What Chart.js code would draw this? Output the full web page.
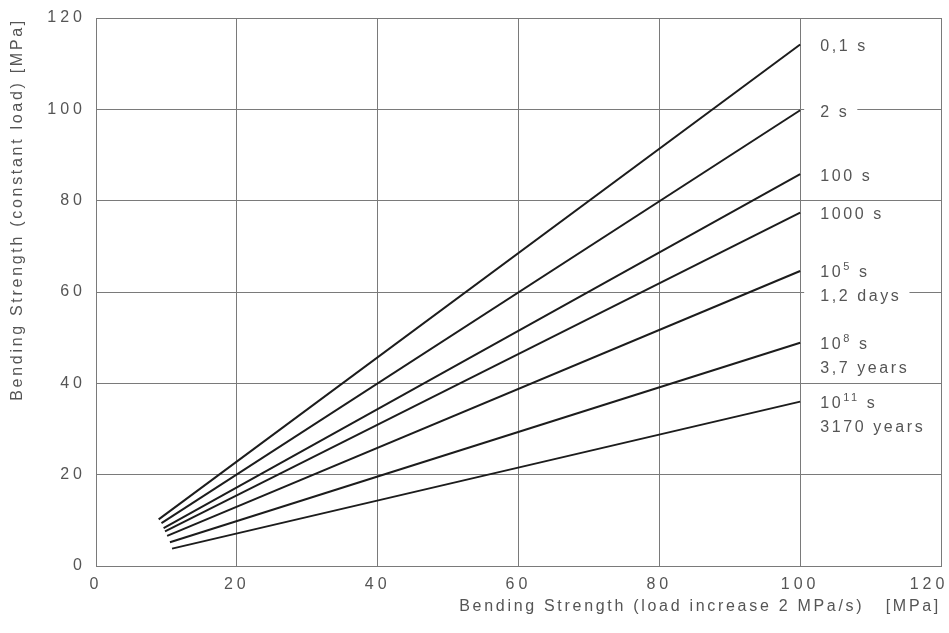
<!DOCTYPE html>
<html>
<head>
<meta charset="utf-8">
<script src="https://cdn.jsdelivr.net/npm/chart.js@4.4.0/dist/chart.umd.min.js"></script>
<style>
  html, body { margin: 0; padding: 0; background: #fff; }
  canvas { display: block; }
</style>
</head>
<body>
<canvas id="strengthChart" width="949" height="633"></canvas>
<script>
// load duration of each curve, second label line where there is one
const durations = ['0,1 s', '2 s', '100 s', '1000 s', '10^5 s', '10^8 s', '10^11 s'];
const durationNotes = ['', '', '', '', '1,2 days', '3,7 years', '3170 years'];

// curve end points: x = strength at load increase 2 MPa/s, y = strength at constant load
const startX = [8.9, 9.3, 9.6, 9.8, 10.1, 10.5, 10.8];
const startY = [10.2, 9.4, 8.3, 7.6, 6.6, 5.2, 3.8];
const endX = [100, 100, 100, 100, 100, 100, 100];
const endY = [114.2, 99.8, 85.8, 77.4, 64.6, 48.9, 36.0];

const xTicks = [0, 20, 40, 60, 80, 100, 120];
const yTicks = [0, 20, 40, 60, 80, 100, 120];

const family = '"Liberation Sans", Arial, Helvetica, sans-serif';
const textColor = '#555';
const gridColor = '#7a7a7a';

// wrap a scale draw method so it uses its own letter spacing
function withSpacing(scale, method, spacing) {
    const orig = scale[method];
    scale[method] = function () {
        const ctx = this.ctx;
        const prev = ctx.letterSpacing;
        ctx.letterSpacing = spacing;
        const res = orig.apply(this, arguments);
        ctx.letterSpacing = prev;
        return res;
    };
}

// one text line of a curve label, "10^5 s" gets a raised exponent
function drawLabel(ctx, text, px, py) {
    const m = text.match(/^(\d+)\^(\d+)(.*)$/);
    const parts = m ? [[m[1], 16, 0], [m[2], 11, -6], [m[3], 16, 0]] : [[text, 16, 0]];
    let w = 0;
    parts.forEach(p => {
        ctx.font = p[1] + 'px ' + family;
        w += ctx.measureText(p[0]).width;
    });
    ctx.fillStyle = '#fff';
    ctx.fillRect(px - 16, py - 8, w + 24, 16);
    ctx.fillStyle = textColor;
    let cx = px;
    parts.forEach(p => {
        ctx.font = p[1] + 'px ' + family;
        ctx.fillText(p[0], cx, py + p[2]);
        cx += ctx.measureText(p[0]).width;
    });
}

const curveLabels = {
    id: 'curveLabels',
    beforeDraw(chart) {
        // tick numbers are set wide in the original
        chart.ctx.letterSpacing = '4px';
    },
    afterDatasetsDraw(chart) {
        const { ctx, scales: { x, y } } = chart;
        ctx.save();
        ctx.letterSpacing = '2.6px';
        ctx.textAlign = 'left';
        ctx.textBaseline = 'middle';
        durations.forEach((name, i) => {
            const px = x.getPixelForValue(endX[i]) + 20;
            const py = y.getPixelForValue(endY[i]) + 2;
            drawLabel(ctx, name, px, py);
            if (durationNotes[i]) {
                drawLabel(ctx, durationNotes[i], px, py + 24);
            }
        });
        ctx.restore();
    }
};

const datasets = durations.map((name, i) => ({
    label: name.replace('^', 'e') + (durationNotes[i] ? ' (' + durationNotes[i] + ')' : ''),
    data: [{ x: startX[i], y: startY[i] }, { x: endX[i], y: endY[i] }],
    borderColor: '#1c1c1c',
    borderWidth: 2,
    pointRadius: 0,
    tension: 0,
    fill: false
}));

const ctx = document.getElementById('strengthChart').getContext('2d');
window.strengthChart = new Chart(ctx, {
    type: 'line',
    data: { datasets: datasets },
    options: {
        responsive: false,
        maintainAspectRatio: false,
        animation: false,
        devicePixelRatio: 1,
        layout: { padding: { top: 18, right: 8, bottom: 0, left: 0 } },
        plugins: {
            legend: { display: false },
            tooltip: { enabled: false }
        },
        scales: {
            x: {
                type: 'linear',
                min: 0,
                max: 120,
                afterBuildTicks: s => { s.ticks = xTicks.map(v => ({ value: v })); },
                afterFit: s => {
                    s.height = 67;
                    s.paddingLeft = 0;
                    s.paddingRight = 0;
                    if (!s._patched) {
                        withSpacing(s, 'drawTitle', '2.7px');
                        // the last number sits inside the frame in the original
                        const compute = s._computeLabelItems;
                        s._computeLabelItems = function (area) {
                            const items = compute.call(this, area);
                            const last = items[items.length - 1];
                            if (last) last.options.translation[0] -= 12;
                            return items;
                        };
                        s._patched = true;
                    }
                },
                grid: { color: gridColor, lineWidth: 1, drawTicks: false },
                border: { display: true, color: gridColor, width: 1 },
                ticks: {
                    color: textColor,
                    font: { family: family, size: 16 },
                    padding: 9,
                    maxRotation: 0
                },
                title: {
                    display: true,
                    text: 'Bending Strength (load increase 2 MPa/s)   [MPa]',
                    align: 'end',
                    color: textColor,
                    font: { family: family, size: 16 },
                    padding: { top: 0, bottom: 17 }
                }
            },
            y: {
                type: 'linear',
                min: 0,
                max: 120,
                afterBuildTicks: s => { s.ticks = yTicks.map(v => ({ value: v })); },
                afterFit: s => {
                    s.width = 96;
                    s.paddingTop = 0;
                    s.paddingBottom = 0;
                    if (!s._patched) {
                        withSpacing(s, 'drawTitle', '2.7px');
                        s._patched = true;
                    }
                },
                grid: { color: gridColor, lineWidth: 1, drawTicks: false },
                border: { display: true, color: gridColor, width: 1 },
                ticks: {
                    color: textColor,
                    font: { family: family, size: 16 },
                    padding: 10
                },
                title: {
                    display: true,
                    text: 'Bending Strength (constant load) [MPa]',
                    align: 'end',
                    color: textColor,
                    font: { family: family, size: 16 },
                    padding: { top: 8, bottom: 0 }
                }
            }
        }
    },
    plugins: [curveLabels]
});
</script>
</body>
</html>
